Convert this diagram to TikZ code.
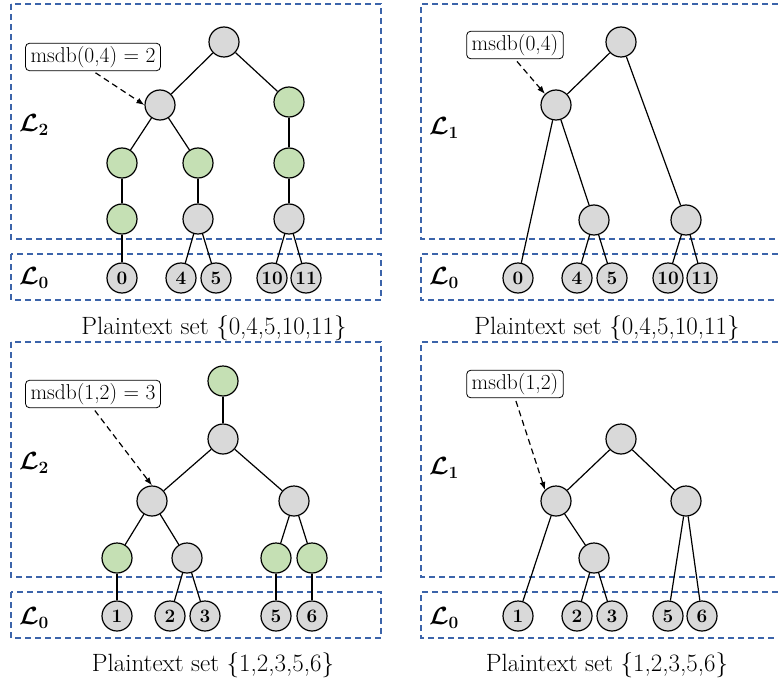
\documentclass[tikz,border=0pt]{standalone}
\usepackage{amsmath}
\usepackage{tikz}
\usetikzlibrary{arrows.meta}
\definecolor{nodegray}{RGB}{217,217,217}
\definecolor{nodegreen}{RGB}{197,224,180}
\definecolor{layerblue}{RGB}{60,100,170}

\begin{document}
\begin{tikzpicture}[x=1pt,y=-1pt,line width=1.2pt,
    tn/.style={circle,draw,fill=nodegray,minimum size=30pt,inner sep=0pt},
    gn/.style={tn,fill=nodegreen},
    leaf/.style={tn,font=\fontsize{19}{19}\selectfont\bfseries},
    lbl/.style={draw,rounded corners=4pt,fill=white,line width=0.8pt,inner xsep=5pt,inner ysep=3pt,font=\fontsize{21.5}{21.5}\selectfont},
    lay/.style={draw=layerblue,line width=1.2pt,dash pattern=on 6pt off 4pt},
    ptr/.style={-{Latex[length=8pt,width=6pt]},dash pattern=on 6pt off 4pt,shorten <=3pt},
    lvl/.style={font=\fontsize{24}{24}\selectfont},
    settxt/.style={font=\fontsize{25}{29}\selectfont}]
            \useasboundingbox (0,0) rectangle (778,679);

            \draw[lay] (11,4) rectangle (381,239);
            \draw[lay] (11,254) rectangle (381,300);
            \draw[lay] (778,4) -| (421,239) -- (778,239);
            \draw[lay] (778,254) -| (421,300) -- (778,300);
            \draw[lay] (11,342) rectangle (381,577);
            \draw[lay] (11,592) rectangle (381,638);
            \draw[lay] (778,342) -| (421,577) -- (778,577);
            \draw[lay] (778,592) -| (421,638) -- (778,638);

            % top left
            \node[lvl] (La2) at (34,125) {$\boldsymbol{\mathcal{L}}_{\mathbf{2}}$};
            \node[lvl] (La0) at (34,278) {$\boldsymbol{\mathcal{L}}_{\mathbf{0}}$};
            \node[tn] (a0) at (224,42) {};
            \node[tn] (a1) at (160,105) {};
            \node[gn] (a2) at (289,102) {};
            \node[gn] (a3) at (122,163) {};
            \node[gn] (a4) at (198,163) {};
            \node[gn] (a5) at (289,163) {};
            \node[gn] (a6) at (122,219) {};
            \node[tn] (a7) at (198,219) {};
            \node[tn] (a8) at (289,219) {};
            \node[leaf] (la0) at (122,278) {0};
            \node[leaf] (la4) at (181,278) {4};
            \node[leaf] (la5) at (216,278) {5};
            \node[leaf] (la10) at (272,278) {10};
            \node[leaf] (la11) at (306,278) {11};
            \draw (a0) -- (a1);
            \draw (a0) -- (a2);
            \draw (a1) -- (a3);
            \draw (a1) -- (a4);
            \draw (a2) -- (a5);
            \draw (a3) -- (a6);
            \draw (a4) -- (a7);
            \draw (a5) -- (a8);
            \draw (a6) -- (la0);
            \draw (a7) -- (la4);
            \draw (a7) -- (la5);
            \draw (a8) -- (la10);
            \draw (a8) -- (la11);
            \node[lbl] (ma) at (93,57) {msdb(0,4) = 2};
            \draw[ptr] (ma.south) -- (a1.west);
            \node[settxt] (ta) at (214,328) {Plaintext set \{0,4,5,10,11\}};

            % top right
            \node[lvl] (Lb1) at (444,128) {$\boldsymbol{\mathcal{L}}_{\mathbf{1}}$};
            \node[lvl] (Lb0) at (444,278) {$\boldsymbol{\mathcal{L}}_{\mathbf{0}}$};
            \node[tn] (b0) at (621,42) {};
            \node[tn] (b1) at (556,105) {};
            \node[tn] (b2) at (594,220) {};
            \node[tn] (b3) at (686,220) {};
            \node[leaf] (lb0) at (518,278) {0};
            \node[leaf] (lb4) at (577,278) {4};
            \node[leaf] (lb5) at (612,278) {5};
            \node[leaf] (lb10) at (668,278) {10};
            \node[leaf] (lb11) at (702,278) {11};
            \draw (b0) -- (b1);
            \draw (b0) -- (b3);
            \draw (b1) -- (lb0);
            \draw (b1) -- (b2);
            \draw (b2) -- (lb4);
            \draw (b2) -- (lb5);
            \draw (b3) -- (lb10);
            \draw (b3) -- (lb11);
            \node[lbl] (mb) at (515,45) {msdb(0,4)};
            \draw[ptr] (mb.south) -- (b1.north west);
            \node[settxt] (tb) at (607,328) {Plaintext set \{0,4,5,10,11\}};

            % bottom left
            \node[lvl] (Lc2) at (34,463) {$\boldsymbol{\mathcal{L}}_{\mathbf{2}}$};
            \node[lvl] (Lc0) at (34,618) {$\boldsymbol{\mathcal{L}}_{\mathbf{0}}$};
            \node[gn] (c0) at (223,381) {};
            \node[tn] (c1) at (223,439) {};
            \node[tn] (c2) at (152,501) {};
            \node[tn] (c3) at (294,501) {};
            \node[gn] (c4) at (117,558) {};
            \node[tn] (c5) at (187,558) {};
            \node[gn] (c6) at (276,558) {};
            \node[gn] (c7) at (312,558) {};
            \node[leaf] (lc1) at (117,616) {1};
            \node[leaf] (lc2) at (170,616) {2};
            \node[leaf] (lc3) at (205,616) {3};
            \node[leaf] (lc5) at (276,616) {5};
            \node[leaf] (lc6) at (312,616) {6};
            \draw (c0) -- (c1);
            \draw (c1) -- (c2);
            \draw (c1) -- (c3);
            \draw (c2) -- (c4);
            \draw (c2) -- (c5);
            \draw (c3) -- (c6);
            \draw (c3) -- (c7);
            \draw (c4) -- (lc1);
            \draw (c5) -- (lc2);
            \draw (c5) -- (lc3);
            \draw (c6) -- (lc5);
            \draw (c7) -- (lc6);
            \node[lbl] (mc) at (93,394) {msdb(1,2) = 3};
            \draw[ptr] (mc.south) -- (c2.north);
            \node[settxt] (tc) at (213,665) {Plaintext set \{1,2,3,5,6\}};

            % bottom right
            \node[lvl] (Ld1) at (444,468) {$\boldsymbol{\mathcal{L}}_{\mathbf{1}}$};
            \node[lvl] (Ld0) at (444,618) {$\boldsymbol{\mathcal{L}}_{\mathbf{0}}$};
            \node[tn] (d0) at (621,439) {};
            \node[tn] (d1) at (556,501) {};
            \node[tn] (d2) at (686,501) {};
            \node[tn] (d3) at (594,558) {};
            \node[leaf] (ld1) at (518,616) {1};
            \node[leaf] (ld2) at (577,616) {2};
            \node[leaf] (ld3) at (612,616) {3};
            \node[leaf] (ld5) at (668,616) {5};
            \node[leaf] (ld6) at (702,616) {6};
            \draw (d0) -- (d1);
            \draw (d0) -- (d2);
            \draw (d1) -- (ld1);
            \draw (d1) -- (d3);
            \draw (d3) -- (ld2);
            \draw (d3) -- (ld3);
            \draw (d2) -- (ld5);
            \draw (d2) -- (ld6);
            \node[lbl] (md) at (515,384) {msdb(1,2)};
            \draw[ptr] (md.south) -- (d1.north west);
            \node[settxt] (td) at (607,665) {Plaintext set \{1,2,3,5,6\}};
        \end{tikzpicture}
\end{document}
